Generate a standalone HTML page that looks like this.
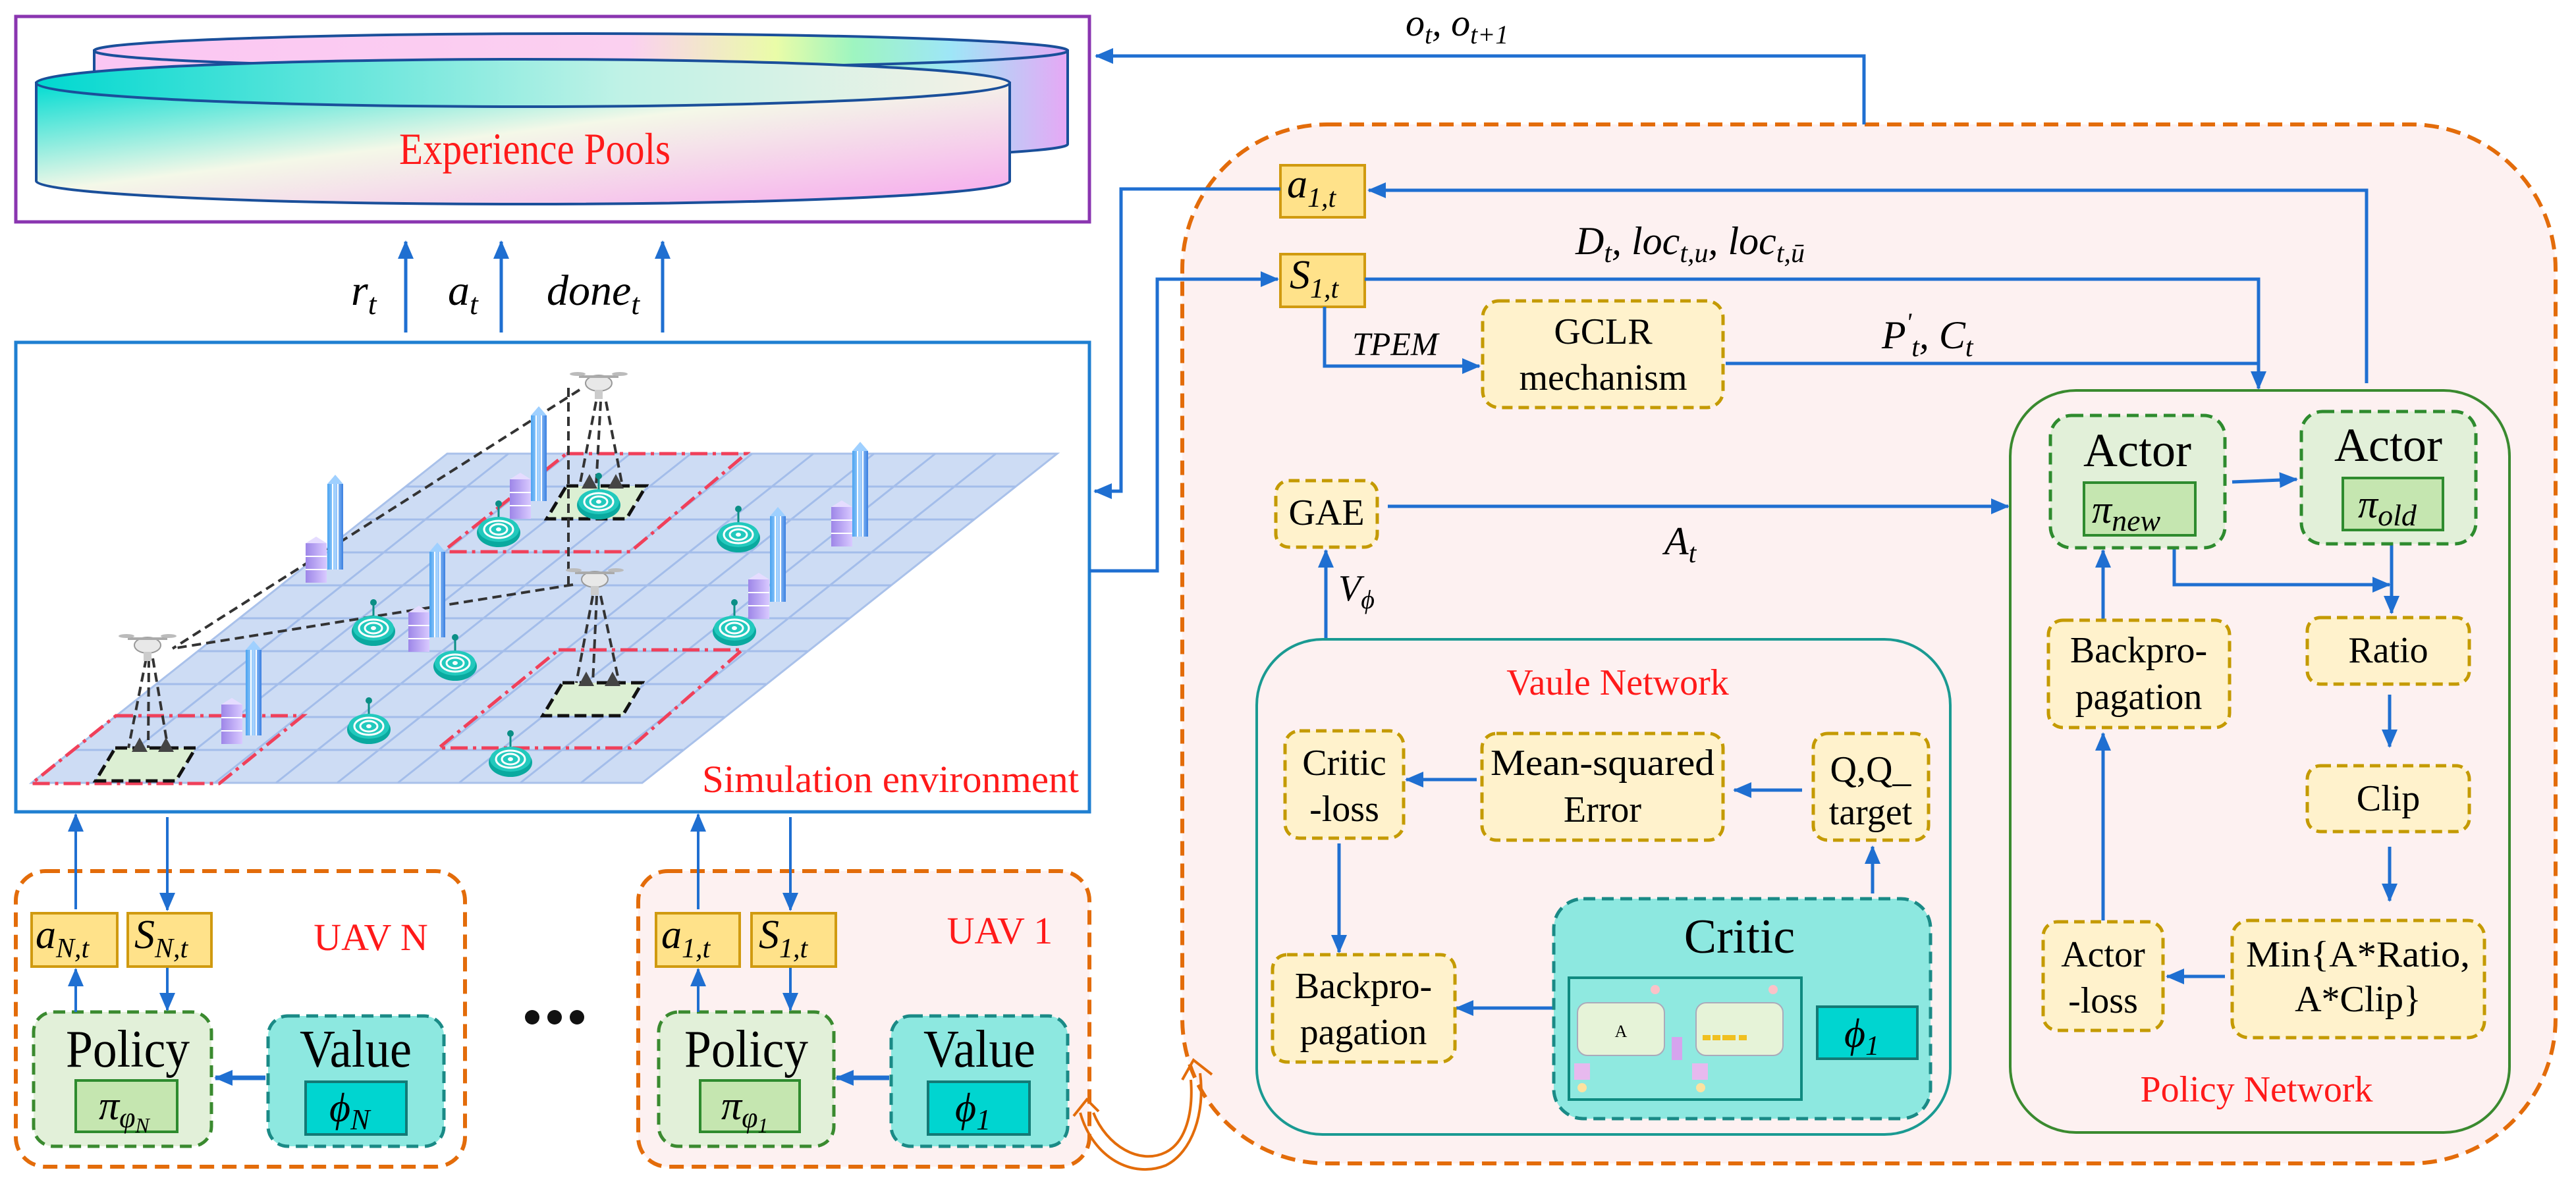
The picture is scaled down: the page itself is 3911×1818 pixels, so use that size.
<!DOCTYPE html>
<html><head><meta charset="utf-8"><style>
html,body{margin:0;padding:0;background:#fff}
svg{display:block}
svg text{font-family:"Liberation Serif",serif}
</style></head><body>
<svg width="3911" height="1818" viewBox="0 0 3911 1818" xmlns="http://www.w3.org/2000/svg" font-family="Liberation Serif, serif">
<defs>
<marker id="ah" markerUnits="userSpaceOnUse" markerWidth="28" markerHeight="24" refX="26" refY="12" orient="auto"><path d="M0,0 L28,12 L0,24 z" fill="#1f6fd1"/></marker>
<linearGradient id="gf" x1="0" y1="0" x2="1" y2="1"><stop offset="0" stop-color="#00dcd2"/><stop offset="0.45" stop-color="#f4f8e8"/><stop offset="1" stop-color="#f7a8ee"/></linearGradient>
<linearGradient id="gb" x1="0" y1="0" x2="1" y2="0"><stop offset="0" stop-color="#fbc6f3"/><stop offset="0.55" stop-color="#fbd0f0"/><stop offset="0.7" stop-color="#eafca8"/><stop offset="0.78" stop-color="#9ef5c0"/><stop offset="0.88" stop-color="#9ee6f7"/><stop offset="1" stop-color="#e6a8f5"/></linearGradient>
<linearGradient id="gt" x1="0" y1="0" x2="1" y2="0"><stop offset="0" stop-color="#00d8d0"/><stop offset="0.6" stop-color="#bff2e6"/><stop offset="1" stop-color="#f6f1e6"/></linearGradient>
<linearGradient id="bld" x1="0" y1="0" x2="1" y2="0"><stop offset="0" stop-color="#4aa3f0"/><stop offset="0.5" stop-color="#a9d4ff"/><stop offset="1" stop-color="#3a7fe0"/></linearGradient>
<linearGradient id="pur" x1="0" y1="0" x2="1" y2="0"><stop offset="0" stop-color="#9d86e8"/><stop offset="1" stop-color="#d9c9ff"/></linearGradient>
<g id="drone"><ellipse cx="0" cy="0" rx="20" ry="12" fill="#e8e8e8" stroke="#999" stroke-width="2"/><line x1="-30" y1="-10" x2="30" y2="-10" stroke="#aaa" stroke-width="4"/><ellipse cx="-32" cy="-14" rx="12" ry="3" fill="#bbb"/><ellipse cx="32" cy="-14" rx="12" ry="3" fill="#bbb"/><rect x="-6" y="10" width="12" height="14" fill="#ccc"/></g>
<g id="tgt"><line x1="0" y1="-40" x2="0" y2="-8" stroke="#0b8f86" stroke-width="3"/><circle cx="0" cy="-42" r="5" fill="#0b8f86"/><ellipse cx="0" cy="2" rx="33" ry="22" fill="#0aa99f"/><ellipse cx="0" cy="-3" rx="31" ry="19" fill="#22c9bd"/><ellipse cx="0" cy="-3" rx="22" ry="13" fill="none" stroke="#fff" stroke-width="3"/><ellipse cx="0" cy="-3" rx="13" ry="8" fill="none" stroke="#fff" stroke-width="3"/><ellipse cx="0" cy="-3" rx="4" ry="3" fill="#fff"/></g>
<g id="tower"><rect x="-12" y="0" width="24" height="130" fill="url(#bld)"/><path d="M-12,0 L0,-14 L12,0 z" fill="#9fd0ff"/><line x1="-4" y1="0" x2="-4" y2="130" stroke="#fff" stroke-width="2"/><line x1="4" y1="0" x2="4" y2="130" stroke="#fff" stroke-width="2"/></g>
<g id="small"><rect x="-16" y="0" width="32" height="60" fill="url(#pur)"/><path d="M-16,0 L0,-10 L16,0 z" fill="#e5dcff"/><line x1="-16" y1="20" x2="16" y2="20" stroke="#fff" stroke-width="2"/><line x1="-16" y1="40" x2="16" y2="40" stroke="#fff" stroke-width="2"/></g>
</defs>

<!-- Experience pools -->
<rect x="24" y="25" width="1630" height="312" fill="#fff" stroke="#8a35b0" stroke-width="5"/>
<path d="M143,77 L143,219 A739,26 0 0 0 1621,219 L1621,77 z" fill="url(#gb)" stroke="#1a4f9a" stroke-width="4"/>
<ellipse cx="882" cy="77" rx="739" ry="26" fill="url(#gb)" stroke="#1a4f9a" stroke-width="4"/>
<path d="M55,126 L55,275 A739,35 0 0 0 1533,275 L1533,126 z" fill="url(#gf)" stroke="#1a4f9a" stroke-width="4"/>
<ellipse cx="794" cy="126" rx="739" ry="36" fill="url(#gt)" stroke="#1a4f9a" stroke-width="4"/>
<text x="812" y="249" font-size="68" fill="#ff1a1a" text-anchor="middle" textLength="412" lengthAdjust="spacingAndGlyphs">Experience Pools</text>

<g stroke="#1f6fd1" stroke-width="5" fill="none" marker-end="url(#ah)">
<line x1="616" y1="505" x2="616" y2="367"/><line x1="761" y1="505" x2="761" y2="367"/><line x1="1006" y1="505" x2="1006" y2="367"/>
</g>
<g font-size="66" font-style="italic">
<text x="533" y="463">r<tspan font-size="46" dy="14">t</tspan></text>
<text x="680" y="463">a<tspan font-size="46" dy="14">t</tspan></text>
<text x="830" y="463">done<tspan font-size="46" dy="14">t</tspan></text>
</g>

<!-- simulation box -->
<rect x="24" y="520" width="1630" height="713" fill="#fff" stroke="#1f7fd1" stroke-width="5"/>
<polygon points="679,689 1605,689 975,1189 48,1189" fill="#cddcf4" stroke="#a9c1ea" stroke-width="3"/>
<path stroke="#a3bdea" stroke-width="3" fill="none" d="M616,739H1542M553,789H1479M490,839H1416M427,889H1353M364,939H1290M300,989H1226M237,1039H1163M174,1089H1100M111,1139H1037M772,689L141,1189M864,689L233,1189M957,689L326,1189M1049,689L419,1189M1142,689L512,1189M1235,689L604,1189M1327,689L697,1189M1420,689L790,1189M1512,689L882,1189"/>
<g fill="none" stroke="#f0405a" stroke-width="5" stroke-dasharray="26,8,5,8">
<polygon points="860,689 1133,689 957,838 672,838"/>
<polygon points="848,987 1127,987 957,1136 666,1136"/>
<polygon points="176,1087 460,1087 333,1190 48,1190"/>
</g>
<g fill="#dcefd3" stroke="#111" stroke-width="5" stroke-dasharray="18,8">
<polygon points="860,738 981,738 951,788 830,788"/>
<polygon points="854,1037 975,1037 945,1087 824,1087"/>
<polygon points="175,1136 297,1136 267,1186 145,1186"/>
</g>
<g stroke="#333" stroke-width="4" stroke-dasharray="14,8" fill="none">
<line x1="880" y1="592" x2="262" y2="985"/><line x1="870" y1="888" x2="262" y2="985"/><line x1="863" y1="589" x2="863" y2="891"/>
<path d="M905,610 L880,738 M912,610 L905,738 M920,610 L945,738 M900,905 L875,1037 M906,905 L900,1037 M912,905 L940,1037 M222,1000 L195,1136 M226,1000 L225,1136 M232,1000 L255,1136"/>
</g>
<g fill="#444"><path d="M895,720 l12,22 l-24,0z M935,720 l12,22 l-24,0z M890,1020 l12,22 l-24,0z M930,1020 l12,22 l-24,0z M212,1120 l12,22 l-24,0z M252,1120 l12,22 l-24,0z"/></g>
<use href="#drone" x="909" y="582"/><use href="#drone" x="903" y="880"/><use href="#drone" x="224" y="980"/>
<use href="#tower" x="509" y="735"/><use href="#tower" x="818" y="631"/><use href="#tower" x="664" y="838"/><use href="#tower" x="1181" y="784"/><use href="#tower" x="1306" y="685"/><use href="#tower" x="385" y="987"/>
<use href="#small" x="480" y="825"/><use href="#small" x="790" y="728"/><use href="#small" x="636" y="930"/><use href="#small" x="1152" y="880"/><use href="#small" x="1278" y="770"/><use href="#small" x="352" y="1070"/>
<use href="#tgt" x="757" y="807"/><use href="#tgt" x="909" y="765"/><use href="#tgt" x="1121" y="815"/><use href="#tgt" x="567" y="957"/><use href="#tgt" x="691" y="1010"/><use href="#tgt" x="1115" y="957"/><use href="#tgt" x="560" y="1106"/><use href="#tgt" x="775" y="1156"/>
<text x="1638" y="1203" font-size="58" fill="#ff1a1a" text-anchor="end" textLength="572" lengthAdjust="spacingAndGlyphs">Simulation environment</text>

<!-- big dashed box -->
<rect x="1795" y="189" width="2085" height="1578" rx="220" ry="220" fill="#fdf1f1" stroke="#e36c0a" stroke-width="6" stroke-dasharray="22,12"/>

<!-- UAV boxes -->
<rect x="24" y="1323" width="682" height="449" rx="45" fill="#fff" stroke="#e36c0a" stroke-width="6" stroke-dasharray="22,12"/>
<rect x="969" y="1323" width="685" height="449" rx="45" fill="#fdf1f1" stroke="#e36c0a" stroke-width="6" stroke-dasharray="22,12"/>
<text x="563" y="1443" font-size="58" fill="#ff1a1a" text-anchor="middle">UAV N</text>
<text x="1518" y="1433" font-size="58" fill="#ff1a1a" text-anchor="middle">UAV 1</text>
<g fill="#111"><circle cx="808" cy="1545" r="11"/><circle cx="842" cy="1545" r="11"/><circle cx="876" cy="1545" r="11"/></g>

<g fill="#ffe28a" stroke="#d09a10" stroke-width="4">
<rect x="48" y="1387" width="130" height="81"/><rect x="194" y="1387" width="127" height="81"/>
<rect x="996" y="1387" width="127" height="81"/><rect x="1141" y="1387" width="128" height="81"/>
<rect x="1944" y="251" width="128" height="79"/><rect x="1944" y="386" width="128" height="80"/>
</g>
<g font-size="62" font-style="italic">
<text x="54" y="1440">a<tspan font-size="42" dy="14">N,t</tspan></text>
<text x="204" y="1440">S<tspan font-size="42" dy="14">N,t</tspan></text>
<text x="1004" y="1440">a<tspan font-size="42" dy="14">1,t</tspan></text>
<text x="1152" y="1440">S<tspan font-size="42" dy="14">1,t</tspan></text>
<text x="1954" y="300">a<tspan font-size="42" dy="14">1,t</tspan></text>
<text x="1958" y="438">S<tspan font-size="42" dy="14">1,t</tspan></text>
</g>

<g stroke-width="5" stroke-dasharray="18,10">
<rect x="51" y="1537" width="270" height="204" rx="30" fill="#e2f0d9" stroke="#3a8a2f"/>
<rect x="407" y="1543" width="267" height="198" rx="30" fill="#8de8e0" stroke="#1a8a86"/>
<rect x="1000" y="1537" width="266" height="204" rx="30" fill="#e2f0d9" stroke="#3a8a2f"/>
<rect x="1353" y="1543" width="268" height="198" rx="30" fill="#8de8e0" stroke="#1a8a86"/>
</g>
<g stroke-width="4">
<rect x="115" y="1641" width="154" height="78" fill="#c5e6b0" stroke="#2e8b2e"/>
<rect x="464" y="1643" width="153" height="80" fill="#00d5d0" stroke="#137a76"/>
<rect x="1063" y="1641" width="151" height="78" fill="#c5e6b0" stroke="#2e8b2e"/>
<rect x="1409" y="1643" width="154" height="80" fill="#00d5d0" stroke="#137a76"/>
</g>
<g font-size="80" text-anchor="middle">
<text x="194" y="1620" textLength="188" lengthAdjust="spacingAndGlyphs">Policy</text><text x="540" y="1620" textLength="170" lengthAdjust="spacingAndGlyphs">Value</text>
<text x="1133" y="1620" textLength="188" lengthAdjust="spacingAndGlyphs">Policy</text><text x="1487" y="1620" textLength="170" lengthAdjust="spacingAndGlyphs">Value</text>
</g>
<g font-size="62" font-style="italic">
<text x="150" y="1700">π<tspan font-size="44" dy="12">φ</tspan><tspan font-size="32" dy="8">N</tspan></text>
<text x="1095" y="1700">π<tspan font-size="44" dy="12">φ</tspan><tspan font-size="32" dy="8">1</tspan></text>
<text x="500" y="1703">ϕ<tspan font-size="44" dy="12">N</tspan></text>
<text x="1450" y="1703">ϕ<tspan font-size="44" dy="12">1</tspan></text>
</g>

<g stroke="#1f6fd1" stroke-width="4" fill="none" marker-end="url(#ah)">
<line x1="115" y1="1381" x2="115" y2="1237"/><line x1="254" y1="1241" x2="254" y2="1382"/>
<line x1="1060" y1="1381" x2="1060" y2="1237"/><line x1="1200" y1="1241" x2="1200" y2="1382"/>
<line x1="115" y1="1537" x2="115" y2="1472"/><line x1="254" y1="1470" x2="254" y2="1534"/>
<line x1="1060" y1="1537" x2="1060" y2="1472"/><line x1="1200" y1="1470" x2="1200" y2="1534"/>
</g>
<g stroke="#1f6fd1" stroke-width="7" fill="none" marker-end="url(#ah)">
<line x1="403" y1="1637" x2="327" y2="1637"/><line x1="1350" y1="1637" x2="1270" y2="1637"/>
</g>

<g fill="none" stroke="#e36c0a" stroke-width="4">
<path d="M1640,1690 C1660,1760 1720,1790 1770,1770 C1810,1750 1830,1690 1822,1630"/>
<path d="M1660,1690 C1680,1740 1730,1770 1770,1750 C1800,1735 1812,1690 1808,1640"/>
<path d="M1795,1640 L1812,1610 L1840,1632"/>
<path d="M1630,1695 L1650,1670 L1668,1688"/>
</g>

<polyline points="2830,189 2830,85 1664,85" fill="none" stroke="#1f6fd1" stroke-width="5" marker-end="url(#ah)"/>
<text x="2134" y="54" font-size="58" font-style="italic">o<tspan font-size="40" dy="12">t</tspan><tspan dy="-12">, o</tspan><tspan font-size="40" dy="12">t+1</tspan></text>

<g stroke="#1f6fd1" stroke-width="5" fill="none" marker-end="url(#ah)">
<polyline points="3593,582 3593,289 2078,289"/>
<polyline points="1944,287 1702,287 1702,746 1662,746"/>
<polyline points="1654,867 1757,867 1757,424 1940,424"/>
<polyline points="2072,424 3429,424 3429,590"/>
<polyline points="2011,466 2011,556 2246,556"/>
<line x1="2620" y1="552" x2="3429" y2="552" marker-end="none"/>
<line x1="2107" y1="769" x2="3049" y2="769"/>
<line x1="2013" y1="973" x2="2013" y2="836"/>
<line x1="3389" y1="732" x2="3487" y2="728"/>
<polyline points="3301,832 3301,888 3628,888"/>
<line x1="3631" y1="826" x2="3631" y2="931"/>
<line x1="3193" y1="942" x2="3193" y2="836"/>
<line x1="3628" y1="1055" x2="3628" y2="1134"/>
<line x1="3628" y1="1286" x2="3628" y2="1368"/>
<line x1="3378" y1="1483" x2="3290" y2="1483"/>
<line x1="3193" y1="1398" x2="3193" y2="1114"/>
<line x1="2736" y1="1200" x2="2633" y2="1200"/>
<line x1="2242" y1="1184" x2="2135" y2="1184"/>
<line x1="2033" y1="1281" x2="2033" y2="1446"/>
<line x1="2359" y1="1531" x2="2211" y2="1531"/>
<line x1="2843" y1="1357" x2="2843" y2="1286"/>
</g>
<text x="2392" y="386" font-size="60" font-style="italic">D<tspan font-size="42" dy="12">t</tspan><tspan dy="-12">, loc</tspan><tspan font-size="42" dy="12">t,u</tspan><tspan dy="-12">, loc</tspan><tspan font-size="42" dy="12">t,ū</tspan></text>
<text x="2053" y="539" font-size="50" font-style="italic">TPEM</text>
<text x="2857" y="529" font-size="60" font-style="italic">P<tspan font-size="40" dy="-26">'</tspan><tspan font-size="42" dy="38">t</tspan><tspan dy="-12">,   C</tspan><tspan font-size="42" dy="12">t</tspan></text>
<text x="2527" y="842" font-size="60" font-style="italic">A<tspan font-size="42" dy="12">t</tspan></text>
<text x="2032" y="912" font-size="56" font-style="italic">V<tspan font-size="40" dy="12">ϕ</tspan></text>

<rect x="1908" y="971" width="1053" height="752" rx="100" fill="none" stroke="#1a9a92" stroke-width="4"/>
<rect x="3052" y="593" width="758" height="1127" rx="100" fill="none" stroke="#3a8a2f" stroke-width="4"/>
<text x="2456" y="1055" font-size="56" fill="#ff1a1a" text-anchor="middle">Vaule Network</text>
<text x="3426" y="1673" font-size="56" fill="#ff1a1a" text-anchor="middle">Policy Network</text>

<g fill="#fff2cc" stroke="#c49a00" stroke-width="5" stroke-dasharray="16,9">
<rect x="2251" y="457" width="365" height="162" rx="25"/>
<rect x="1937" y="730" width="154" height="101" rx="20"/>
<rect x="1951" y="1110" width="180" height="163" rx="22"/>
<rect x="2250" y="1114" width="366" height="162" rx="22"/>
<rect x="2753" y="1114" width="175" height="162" rx="22"/>
<rect x="1932" y="1450" width="277" height="163" rx="22"/>
<rect x="3110" y="942" width="275" height="163" rx="22"/>
<rect x="3503" y="938" width="246" height="101" rx="20"/>
<rect x="3503" y="1163" width="246" height="100" rx="20"/>
<rect x="3389" y="1398" width="383" height="178" rx="25"/>
<rect x="3102" y="1400" width="182" height="165" rx="22"/>
</g>
<g font-size="56" text-anchor="middle">
<text x="2434" y="522">GCLR</text><text x="2434" y="592">mechanism</text>
<text x="2014" y="797">GAE</text>
<text x="2041" y="1177">Critic</text><text x="2041" y="1247">-loss</text>
<text x="2433" y="1177" textLength="340" lengthAdjust="spacingAndGlyphs">Mean-squared</text><text x="2433" y="1248">Error</text>
<text x="2840" y="1187">Q,Q_</text><text x="2840" y="1252">target</text>
<text x="2070" y="1516">Backpro-</text><text x="2070" y="1586">pagation</text>
<text x="3247" y="1006">Backpro-</text><text x="3247" y="1077">pagation</text>
<text x="3626" y="1006">Ratio</text>
<text x="3626" y="1231">Clip</text>
<text x="3580" y="1468" textLength="340" lengthAdjust="spacingAndGlyphs">Min{A*Ratio,</text><text x="3580" y="1536">A*Clip}</text>
<text x="3193" y="1468">Actor</text><text x="3193" y="1538">-loss</text>
</g>

<g stroke-width="5" stroke-dasharray="18,10" stroke="#2e8b2e" fill="#e2f0d9">
<rect x="3113" y="631" width="265" height="201" rx="32"/>
<rect x="3494" y="625" width="265" height="201" rx="32"/>
</g>
<rect x="3164" y="733" width="169" height="80" fill="#c5e6b0" stroke="#2e8b2e" stroke-width="4"/>
<rect x="3557" y="726" width="152" height="79" fill="#c5e6b0" stroke="#2e8b2e" stroke-width="4"/>
<g font-size="72" text-anchor="middle"><text x="3245" y="708">Actor</text><text x="3626" y="700">Actor</text></g>
<text x="3176" y="794" font-size="60" font-style="italic">π<tspan font-size="46" dy="12">new</tspan></text>
<text x="3580" y="786" font-size="60" font-style="italic">π<tspan font-size="46" dy="12">old</tspan></text>

<rect x="2359" y="1365" width="572" height="334" rx="45" fill="#8de8e0" stroke="#1a8a86" stroke-width="5" stroke-dasharray="18,10"/>
<text x="2641" y="1447" font-size="74" text-anchor="middle">Critic</text>
<rect x="2382" y="1485" width="353" height="185" fill="#8fe9e0" stroke="#0f8a80" stroke-width="4"/>
<rect x="2395" y="1523" width="132" height="80" rx="15" fill="#e6f3d8" stroke="#aab" stroke-width="2"/>
<rect x="2575" y="1523" width="132" height="80" rx="15" fill="#e6f3d8" stroke="#aab" stroke-width="2"/>
<text x="2461" y="1575" font-size="26" font-family="Liberation Sans" text-anchor="middle">A</text>
<rect x="2538" y="1575" width="16" height="35" fill="#d6a4ee"/>
<rect x="2390" y="1615" width="24" height="25" fill="#e7b9ee"/><rect x="2569" y="1615" width="24" height="25" fill="#e7b9ee"/>
<circle cx="2402" cy="1652" r="7" fill="#fde2a0"/><circle cx="2582" cy="1652" r="7" fill="#fde2a0"/>
<circle cx="2513" cy="1503" r="7" fill="#fbc2c8"/><circle cx="2692" cy="1503" r="7" fill="#fbc2c8"/>
<g fill="#f0c020"><rect x="2585" y="1572" width="12" height="8"/><rect x="2600" y="1572" width="12" height="8"/><rect x="2615" y="1572" width="20" height="8"/><rect x="2640" y="1572" width="12" height="8"/></g>
<rect x="2759" y="1529" width="152" height="79" fill="#00d5d0" stroke="#137a76" stroke-width="4"/>
<text x="2800" y="1590" font-size="62" font-style="italic">ϕ<tspan font-size="42" dy="12">1</tspan></text>
</svg>
</body></html>
